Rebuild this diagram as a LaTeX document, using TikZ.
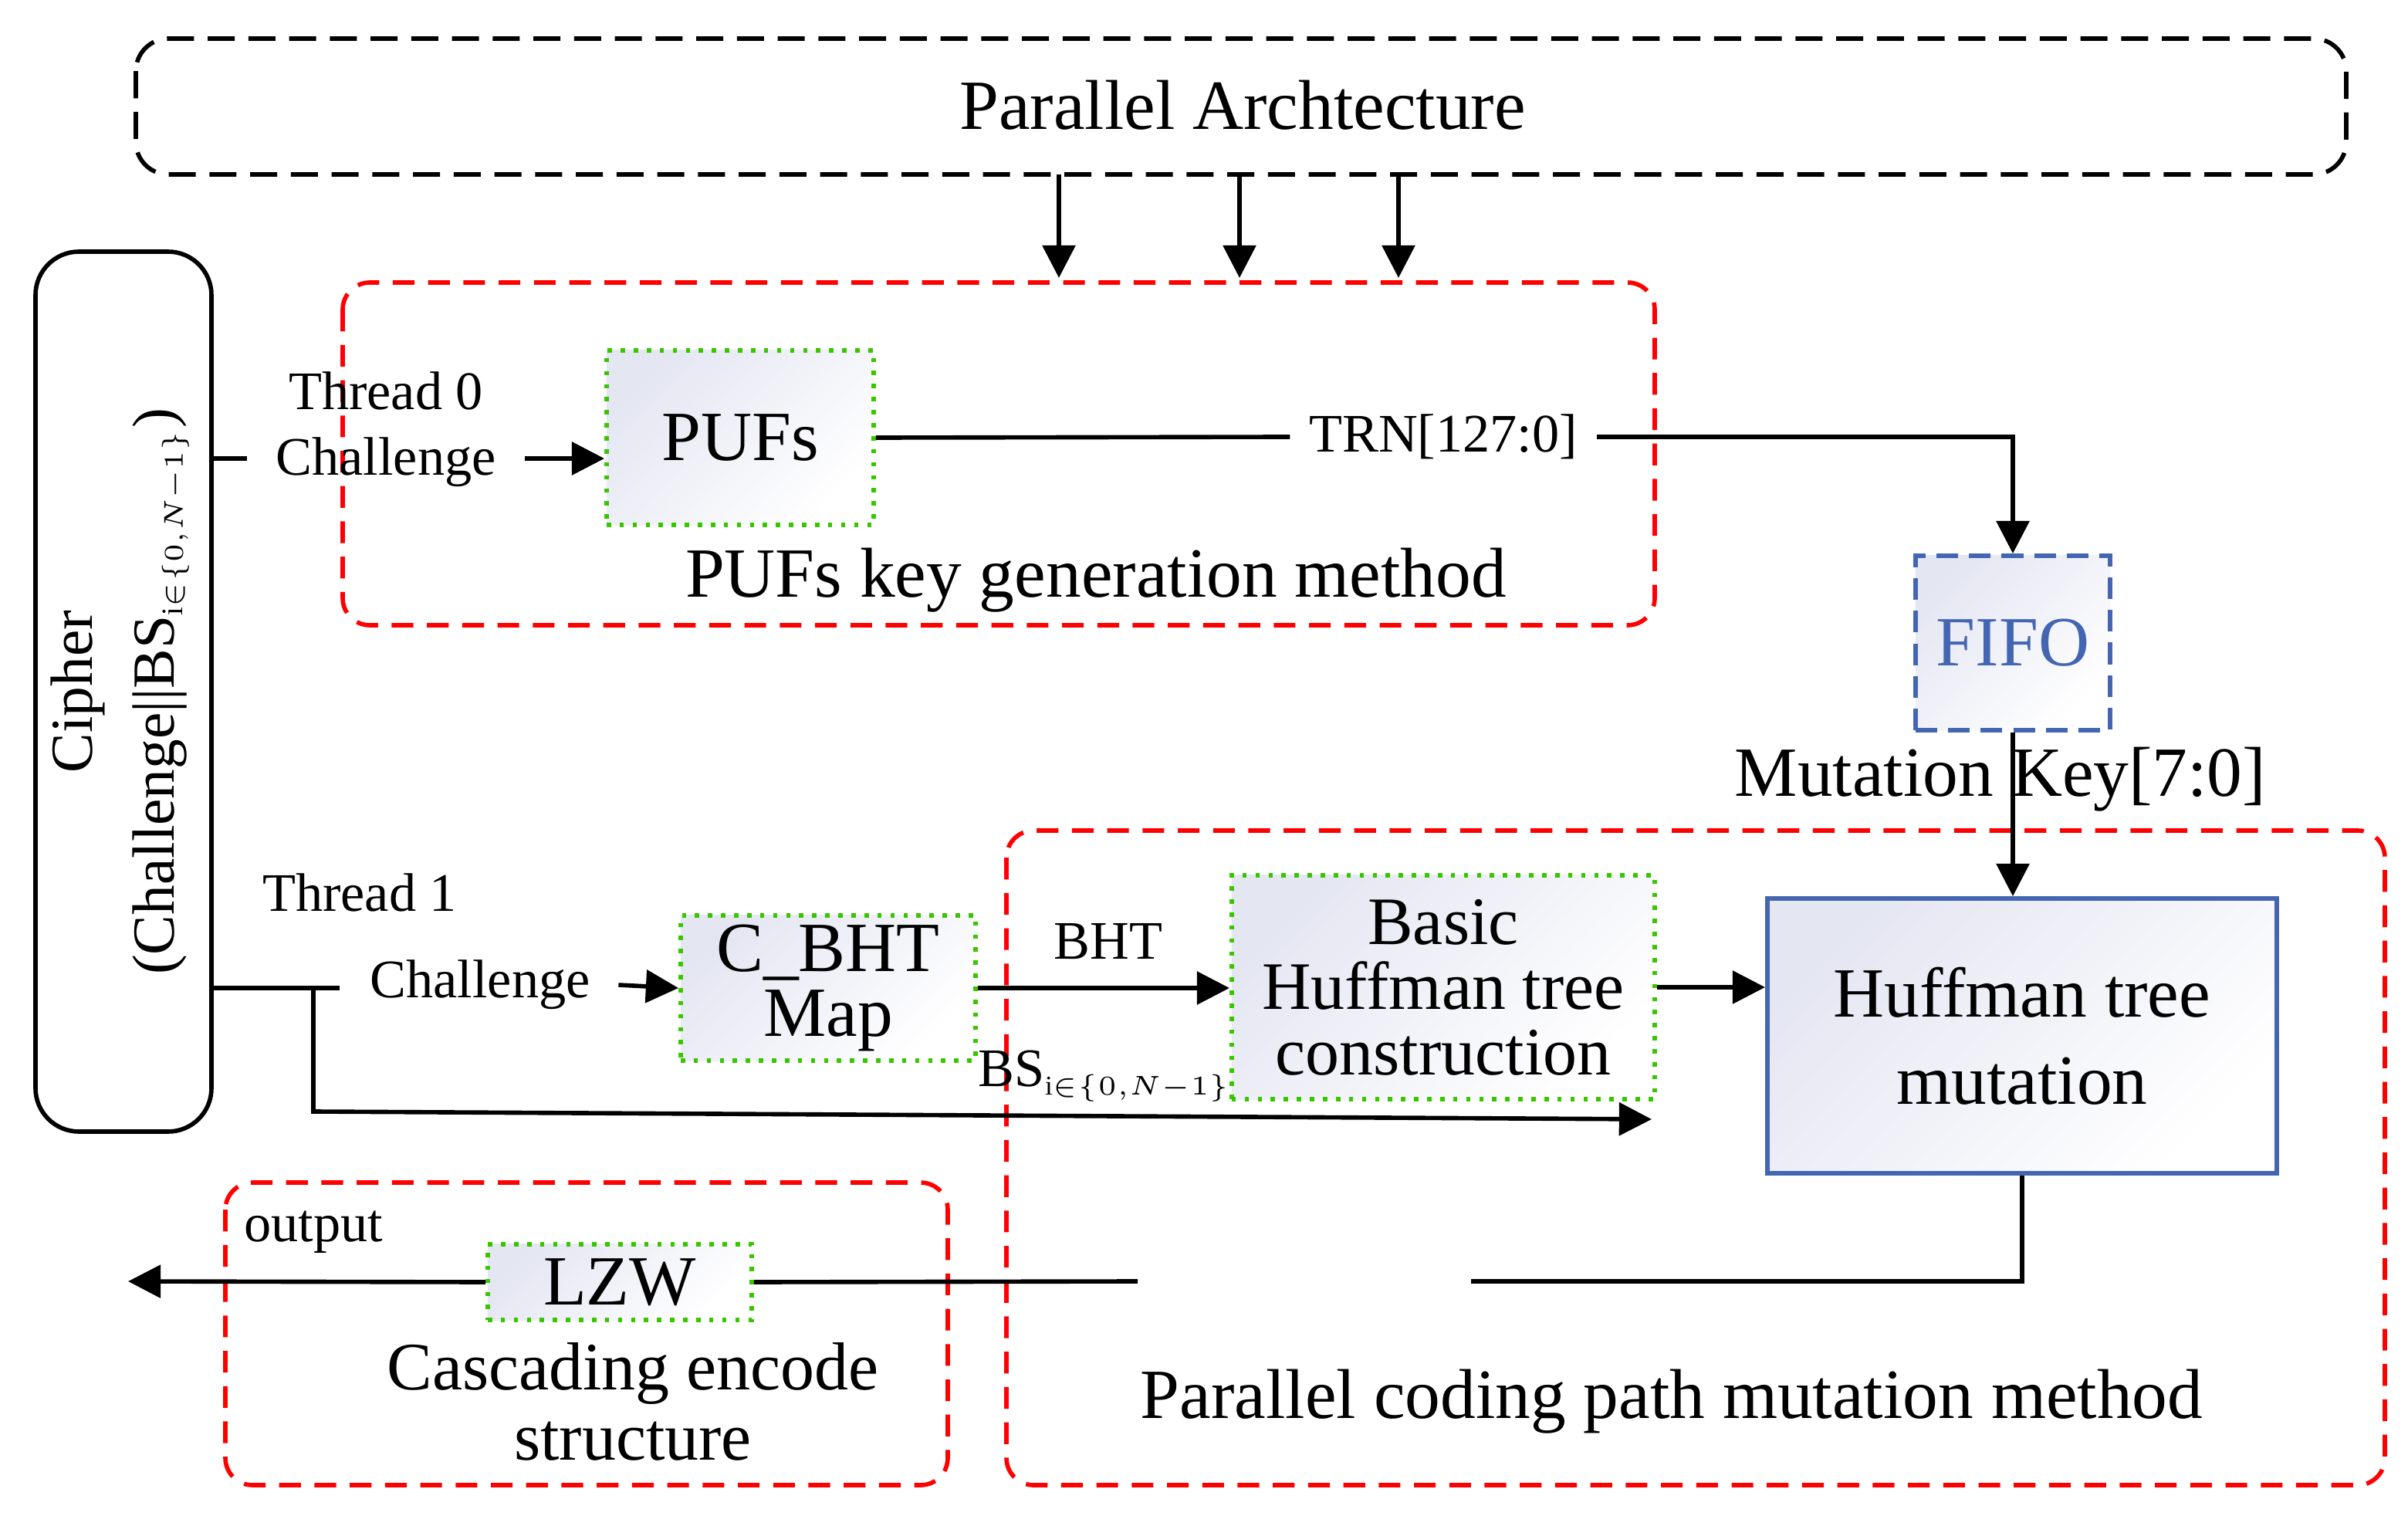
\documentclass[tikz,border=0pt]{standalone}
\usepackage{fontspec}
\setmainfont{Liberation Serif}
\usetikzlibrary{arrows.meta,positioning,backgrounds}
\definecolor{boxblue}{RGB}{68,102,178}
\definecolor{puffill}{RGB}{228,230,242}
\tikzset{
  region/.style={draw=red, line width=0.8pt, rounded corners=5pt, dash pattern=on 4pt off 2.5pt},
  unit/.style={draw=green!55!olive, line width=0.8pt, dash pattern=on 0.8pt off 1.6pt, left color=puffill, right color=white, shading angle=45, align=center, inner sep=1pt, font=\fontsize{13}{13}\selectfont},
  lbl/.style={font=\fontsize{10}{12}\selectfont, align=center},
  big/.style={font=\fontsize{13}{15}\selectfont, align=center},
  flow/.style={line width=0.8pt, -{Triangle[length=6pt,width=6pt]}}
}
\begin{document}
\begin{tikzpicture}[x=0.01cm, y=-0.01cm]
  \useasboundingbox (0,0) rectangle (1560,982);

  % areas
  \draw[line width=0.8pt, dash pattern=on 5pt off 2.5pt, rounded corners=6pt] (88,25) rectangle (1520,113);
  \node[big] (par) at (805,68) {Parallel Archtecture};
  \draw[line width=0.8pt, rounded corners=8pt] (23,163) rectangle (137,733);
  \node[rotate=90, align=center, font=\fontsize{11}{15}\selectfont] (cipher) at (78,448) {Cipher\\(Challenge||BS$_{\scriptscriptstyle\mathrm{i}\in\{0,N-1\}}$)};
  \draw[region] (222,183) rectangle (1072,405);
  \node[big] (pufgen) at (710,376) {PUFs key generation method};
  \draw[region] (652,538) rectangle (1545,962);
  \node[big] (pcpm) at (1083,908) {Parallel coding path mutation method};
  \draw[region] (146,766) rectangle (614,962);
  \node[big, font=\fontsize{12.5}{14}\selectfont] (cascade) at (410,908) {Cascading encode\\[-1pt]structure};

  % blocks
  \node[unit, minimum width=17.3mm, minimum height=11.3mm] (pufs) at (479.5,283.5) {PUFs};
  \node[draw=boxblue, line width=0.8pt, dash pattern=on 4pt off 2pt, left color=puffill, right color=white, shading angle=45, inner sep=1pt, minimum width=12.6mm, minimum height=11.3mm, text=boxblue, font=\fontsize{13}{13}\selectfont] (fifo) at (1304,416.5) {FIFO};
  \node[draw=boxblue, line width=0.8pt, left color=puffill, right color=white, shading angle=45, minimum width=33mm, minimum height=17.8mm, align=center, font=\fontsize{13}{16}\selectfont] (mut) at (1310,671) {Huffman tree\\mutation};
  \node[unit, minimum width=19.1mm, minimum height=9.4mm, font=\fontsize{13}{12}\selectfont] (cbht) at (536.5,640) {C\_BHT\\Map};
  \node[unit, minimum width=27.4mm, minimum height=14.5mm, font=\fontsize{12.5}{12}\selectfont] (basic) at (935,639.5) {Basic\\Huffman tree\\construction};
  \node[unit, minimum width=17.1mm, minimum height=4.9mm] (lzw) at (401.5,830.5) {LZW};

  % labels
  \node[lbl] (t0) at (250,278) {Thread 0\\Challenge};
  \node[lbl] (t1) at (233,578) {Thread 1};
  \node[lbl] (ch1) at (311,638) {Challenge};
  \node[lbl] (trn) at (935,283) {TRN[127:0]};
  \node[big] (mkey) at (1296,505) {Mutation Key[7:0]};
  \node[lbl] (bht) at (718,610) {BHT};
  \node[lbl] (bs) at (716,697) {BS$_{\scriptscriptstyle\mathrm{i}\in\{0,N-1\}}$};
  \node[lbl] (out) at (203,798) {output};

  \coordinate (c0) at (137,297);
  \coordinate (c1) at (137,640);
  \coordinate (split) at (203,640);
  \coordinate (bsend) at (1070,725);
  \coordinate (gapR) at (953,830);
  \coordinate (gapL) at (737,830);
  \coordinate (outend) at (83,830);

  % connectors
  \foreach \x in {686,803,906}
    \draw[flow] (\x,113) -- (\x,180);
  \draw[line width=0.8pt] (c0) -- ++(23,0);
  \draw[flow] (340,297) -- (pufs.west |- 0,297);
  \draw[line width=0.8pt] (pufs.east) -- (trn.west);
  \draw[flow] (trn.east) -| (fifo.north);
  \draw[flow] (fifo.south) -- (mut.north -| fifo.south);
  \draw[line width=0.8pt] (c1) -- ++(83,0);
  \draw[flow] (ch1.east) ++(6,0) -- (cbht.west);
  \draw[flow] (cbht.east) -- (basic.west |- cbht.east);
  \draw[flow] (basic.east) -- (mut.west |- basic.east);
  \draw[flow] (split) -- (203,720) -- (bsend);
  \draw[line width=0.8pt] (mut.south) |- (gapR);
  \draw[line width=0.8pt] (gapL) -- (lzw.east);
  \draw[flow] (lzw.west) -- (outend);
\end{tikzpicture}
\end{document}
